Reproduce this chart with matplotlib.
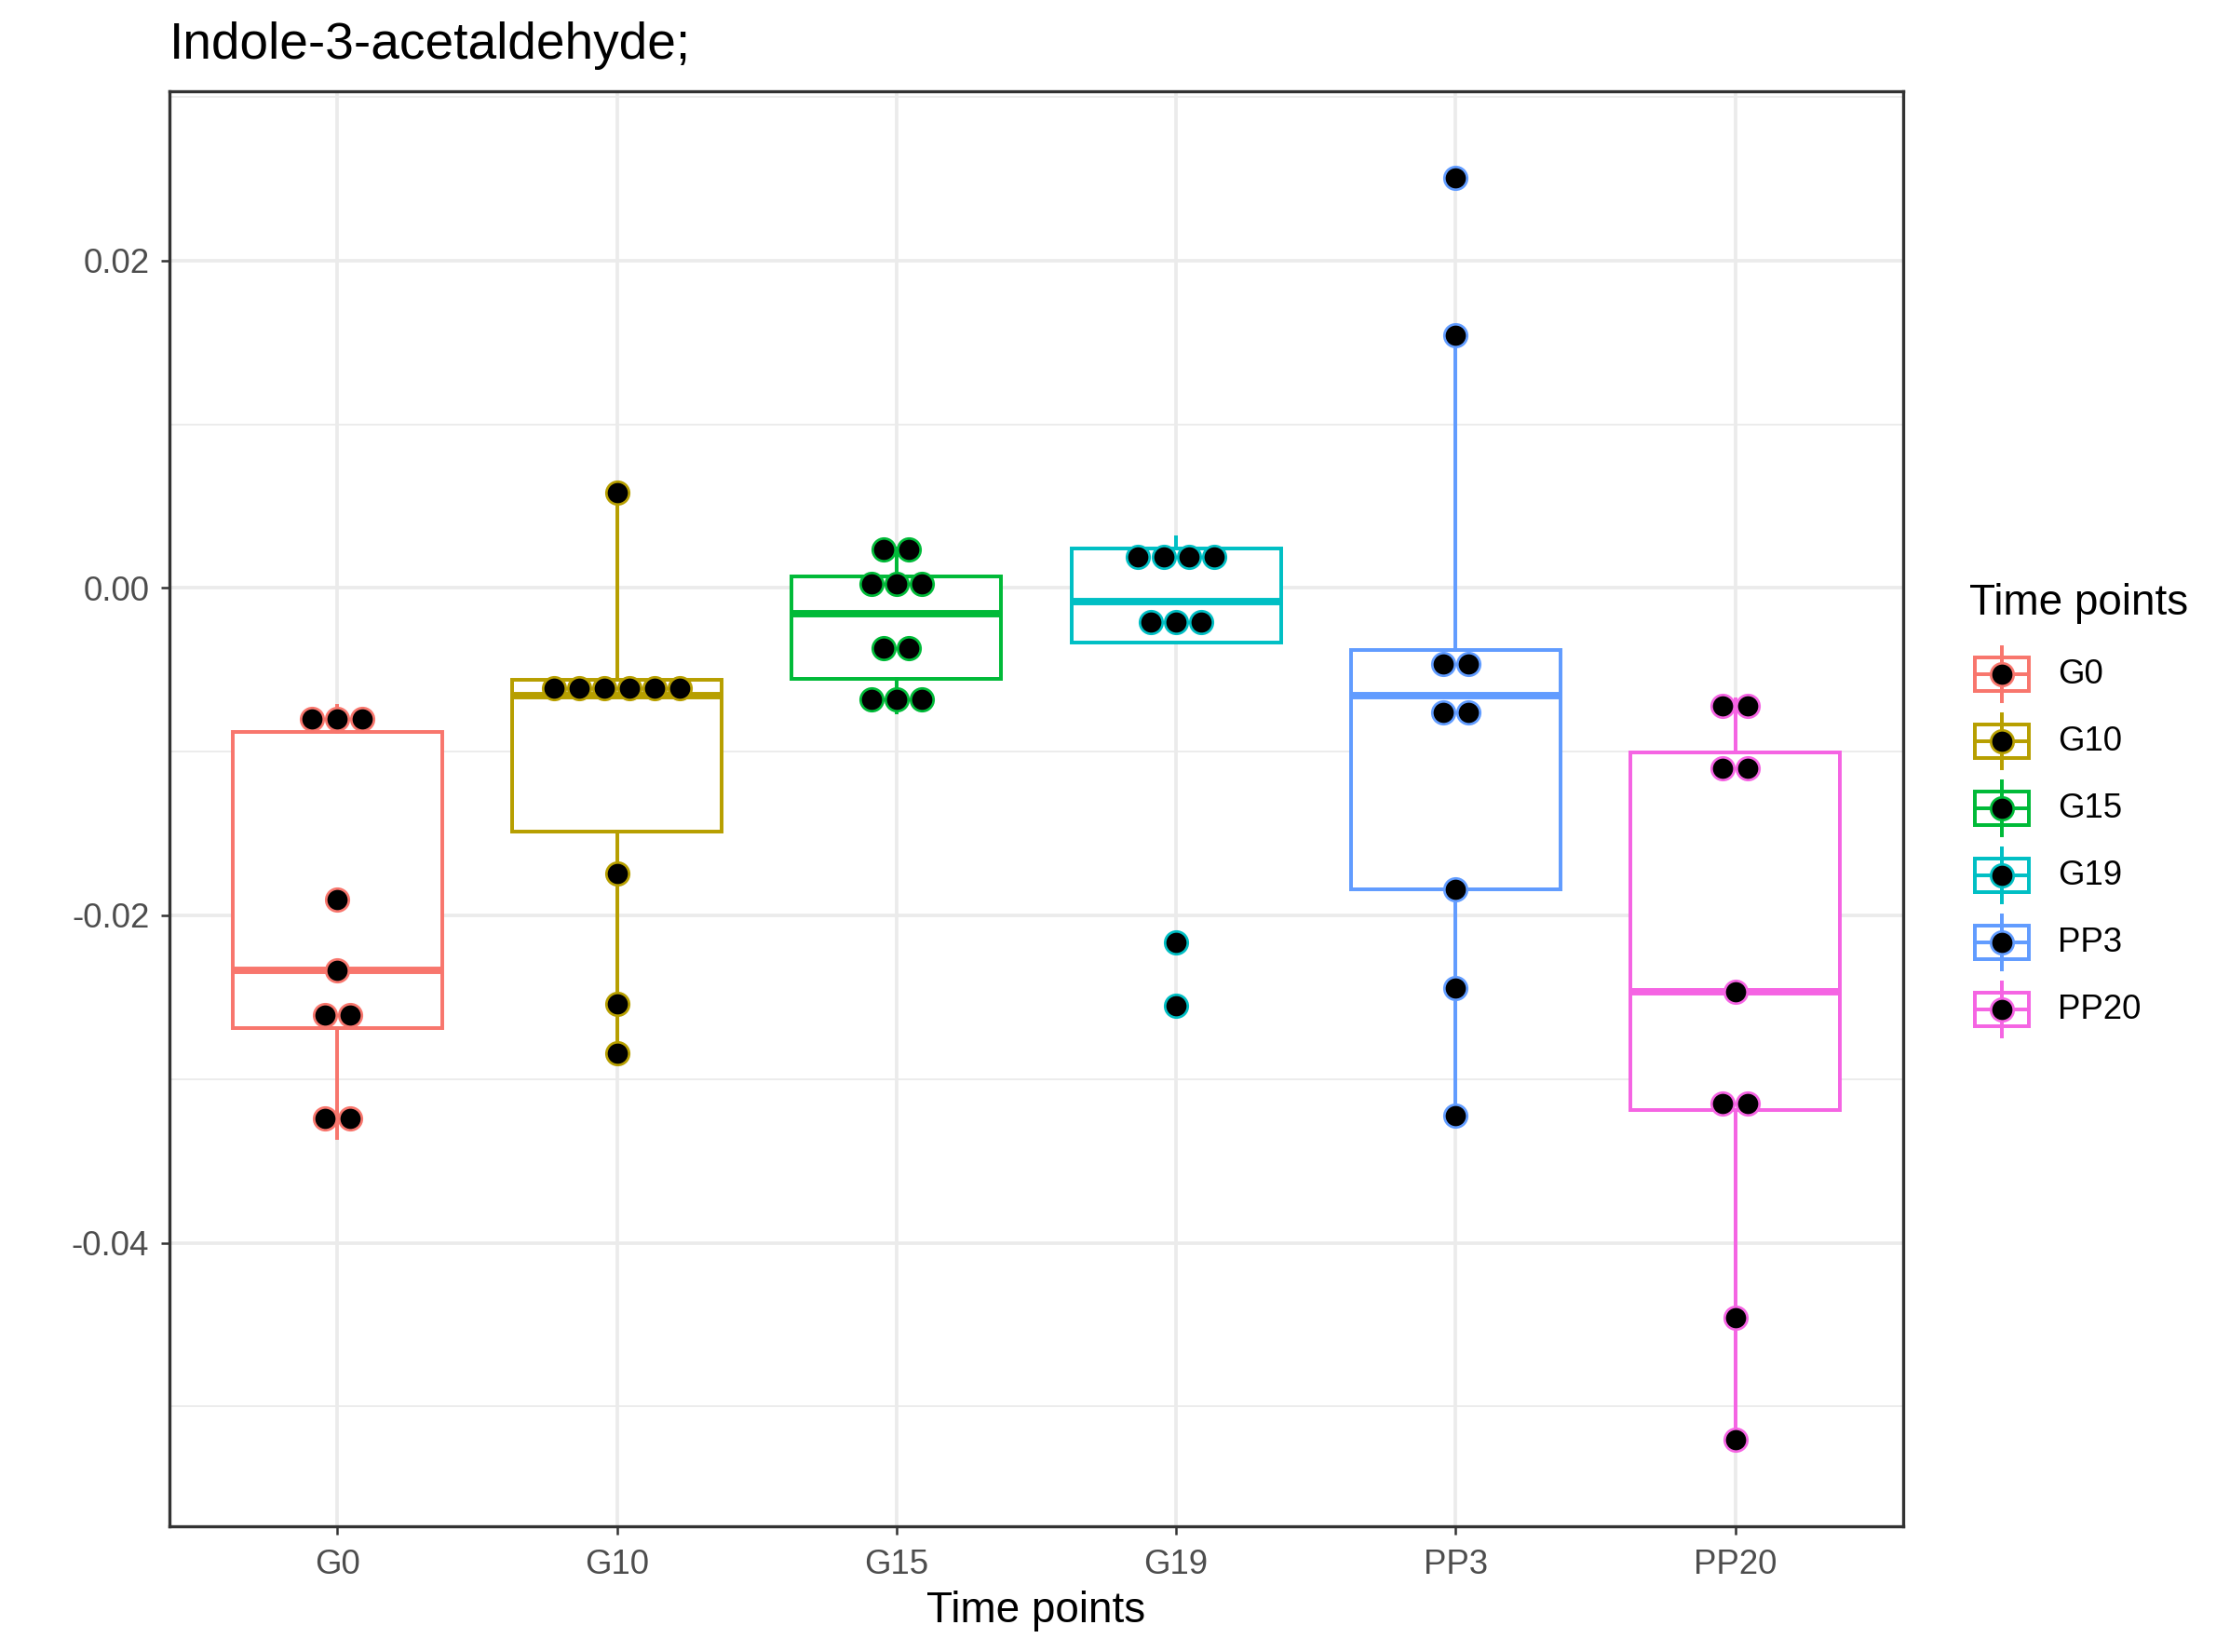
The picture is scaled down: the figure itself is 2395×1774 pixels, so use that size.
import numpy as np
import matplotlib
matplotlib.use("Agg")
import matplotlib.pyplot as plt
from matplotlib.patches import Rectangle
from matplotlib.lines import Line2D

plt.rcParams['font.family'] = ['Liberation Sans', 'DejaVu Sans']
plt.rcParams['axes.unicode_minus'] = False

# ---------------- data ----------------
title = "Indole-3-acetaldehyde;"
xlabel = "Time points"
legend_title = "Time points"
groups = ["G0", "G10", "G15", "G19", "PP3", "PP20"]
colors = ["#F8766D", "#B79F00", "#00BA38", "#00BFC4", "#619CFF", "#F564E3"]

g0 = [-0.0336, -0.03126, -0.02686, -0.02534, -0.02336, -0.01904, -0.00880, -0.0080, -0.00722]
g10 = [-0.02841, -0.02542, -0.01742, -0.00718, -0.0068, -0.00634, -0.0060, -0.00549, -0.0051, 0.00585]
g15 = [-0.007626, -0.0068, -0.005934, -0.004478, -0.002882, -0.000258, 0.000538, 0.00075, 0.00235, 0.00241]
g19 = [-0.02551, -0.02165, -0.00332, -0.0021, -0.00082, 0.00066, 0.00243, 0.0028, 0.00312]
pp3 = [-0.03225, -0.02446, -0.01839, -0.00867, -0.00659, -0.005515, -0.003765, 0.01544, 0.02507]
pp20 = [-0.05205, -0.04459, -0.0319, -0.03114, -0.02465, -0.01194, -0.01006, -0.0076, -0.0068]
values = [g0, g10, g15, g19, pp3, pp20]

y_major = [-0.04, -0.02, 0.00, 0.02]
y_major_labels = ["-0.04", "-0.02", "0.00", "0.02"]
y_minor = [-0.05, -0.03, -0.01, 0.01, 0.03]

# ---------------- figure ----------------
W, H, DPI = 2395, 1774, 300
fig = plt.figure(figsize=(W / DPI, H / DPI), dpi=DPI)
L, R, T, B = 182, 2044, 98, 1639
ax = fig.add_axes([L / W, 1 - B / H, (R - L) / W, (B - T) / H])

allv = np.concatenate([np.asarray(v) for v in values])
bw = (allv.max() - allv.min()) / 30.0
dotsize = 0.6


def dotdensity_bins(vals, width):
    x = np.sort(np.asarray(vals))
    bins = []
    binend = -np.inf
    for v in x:
        if v >= binend:
            bins.append([v])
            binend = v + width
        else:
            bins[-1].append(v)
    return [((min(b) + max(b)) / 2.0, len(b)) for b in bins]


lo = allv.min() - bw / 2
hi = allv.max() + bw / 2
pad = 0.05 * (hi - lo)
ax.set_ylim(lo - pad, hi + pad)
ax.set_xlim(0.4, len(groups) + 0.6)

# grid & styling
ax.set_facecolor("white")
ax.set_yticks(y_major)
ax.set_yticklabels(y_major_labels)
ax.set_yticks(y_minor, minor=True)
ax.set_xticks(range(1, len(groups) + 1))
ax.set_xticklabels(groups)
ax.grid(True, which="major", color="#EBEBEB", linewidth=0.9, zorder=0)
ax.grid(True, which="minor", axis="y", color="#EBEBEB", linewidth=0.45, zorder=0)
ax.set_axisbelow(True)
ax.tick_params(axis="both", which="major", length=2.2, width=0.6, color="#333333",
               labelsize=8.8, labelcolor="#4D4D4D", pad=3.0)
ax.tick_params(axis="x", which="major", pad=3.6)
ax.tick_params(axis="y", which="minor", length=0)
for s in ax.spines.values():
    s.set_color("#333333")
    s.set_linewidth(0.8)
    s.set_zorder(10)

# boxplots
pos = list(range(1, len(groups) + 1))
bp = ax.boxplot(values, positions=pos, widths=0.75, whis=1.5, showfliers=False,
                showcaps=False, patch_artist=True, manage_ticks=False, zorder=2)
for i, c in enumerate(colors):
    bp['boxes'][i].set(facecolor="white", edgecolor=c, linewidth=0.95)
    bp['medians'][i].set(color=c, linewidth=1.9, solid_capstyle="butt")
    for w in bp['whiskers'][2 * i:2 * i + 2]:
        w.set(color=c, linewidth=0.95)

# dotplot
fig.canvas.draw()
bbox = ax.get_window_extent()
ax_h_px = bbox.height
ax_w_px = bbox.width
y0, y1 = ax.get_ylim()
x0, x1 = ax.get_xlim()
d_px = dotsize * bw / (y1 - y0) * ax_h_px
dx = d_px / ax_w_px * (x1 - x0)
edge_lw = 0.65
d_pt = d_px * 72.0 / DPI
msize = (d_pt - edge_lw) ** 2

for i, (vals, c) in enumerate(zip(values, colors)):
    xs, ys = [], []
    for center, n in dotdensity_bins(vals, bw):
        for j in range(n):
            xs.append(pos[i] + (j - (n - 1) / 2.0) * dx)
            ys.append(center)
    ax.scatter(xs, ys, s=msize, facecolor="black", edgecolor=c, linewidth=edge_lw, zorder=5)

# ---------------- texts ----------------
fig.text(L / W, 1 - 63 / H, title, fontsize=13.2, ha="left", va="baseline", color="black")
fig.text((L + R) / 2 / W, 1 - 1730 / H, xlabel, fontsize=11, ha="center", va="center", color="black")

# ---------------- legend ----------------
ov = fig.add_axes([0, 0, 1, 1], facecolor="none")
ov.set_xlim(0, W)
ov.set_ylim(H, 0)
ov.axis("off")
ov.text(2115, 648, legend_title, fontsize=11, ha="left", va="center", color="black")
key_y0, key_step = 724, 72
kx = 2150
for i, (g, c) in enumerate(zip(groups, colors)):
    ky = key_y0 + i * key_step
    ov.add_line(Line2D([kx, kx], [ky - 29, ky + 29], color=c, linewidth=0.95))
    ov.add_patch(Rectangle((kx - 28.8, ky - 18), 57.6, 36, facecolor="white",
                           edgecolor=c, linewidth=0.95))
    ov.add_line(Line2D([kx - 28.8, kx + 28.8], [ky, ky], color=c, linewidth=0.95))
    ov.scatter([kx], [ky], s=msize, facecolor="black", edgecolor=c, linewidth=edge_lw, zorder=5)
    ov.text(2210, ky, g, fontsize=8.8, ha="left", va="center", color="black")

fig.savefig("out.png", dpi=DPI, facecolor="white")
